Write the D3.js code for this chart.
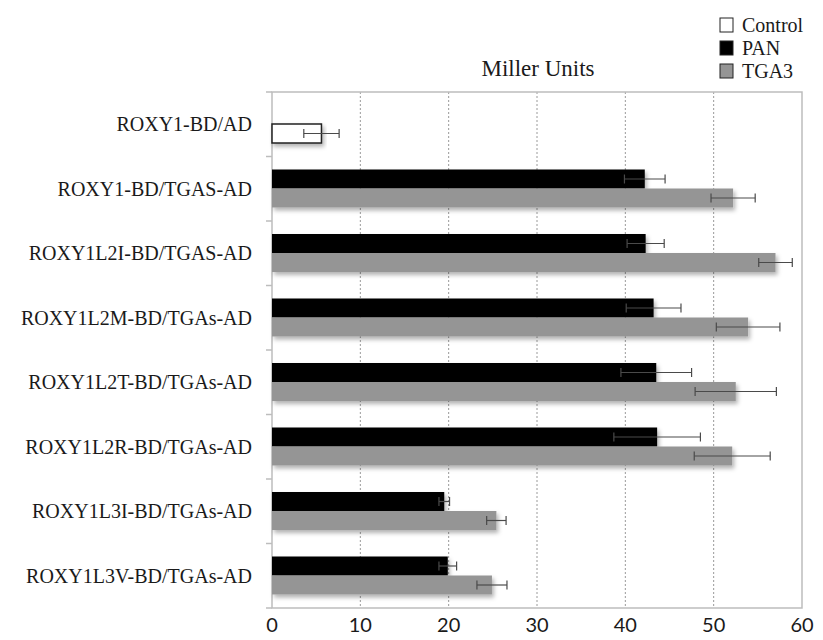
<!DOCTYPE html>
<html>
<head>
<meta charset="utf-8">
<script src="https://cdn.jsdelivr.net/npm/d3@7"></script>
<style>
  html, body { margin: 0; padding: 0; background: #fff; }
  svg { display: block; }
</style>
</head>
<body>
<svg id="chart" width="823" height="640"></svg>
<script>
const categories = [
  'ROXY1-BD/AD',
  'ROXY1-BD/TGAS-AD',
  'ROXY1L2I-BD/TGAS-AD',
  'ROXY1L2M-BD/TGAs-AD',
  'ROXY1L2T-BD/TGAs-AD',
  'ROXY1L2R-BD/TGAs-AD',
  'ROXY1L3I-BD/TGAs-AD',
  'ROXY1L3V-BD/TGAs-AD',
]
const controlValues = [5.6, null, null, null, null, null, null, null]
const controlErrors = [2.0, null, null, null, null, null, null, null]
const panValues = [null, 42.2, 42.3, 43.2, 43.5, 43.6, 19.5, 19.9]
const panErrors = [null, 2.3, 2.1, 3.1, 4.0, 4.9, 0.6, 1.0]
const tga3Values = [null, 52.2, 57.0, 53.9, 52.5, 52.1, 25.4, 24.9]
const tga3Errors = [null, 2.5, 1.9, 3.6, 4.6, 4.3, 1.1, 1.7]
const xTicks = [0, 10, 20, 30, 40, 50, 60]
const legendItems = ['Control', 'PAN', 'TGA3']

const serif = 'Liberation Serif, Times New Roman, serif'
const sans = 'Lato, Open Sans, sans-serif'
const colors = { Control: '#ffffff', PAN: '#000000', TGA3: '#959595' }

const margin = { top: 92, right: 21, bottom: 32, left: 272 }
const width = 823
const height = 640
const svg = d3.select('#chart')

const defs = svg.append('defs')
const shadow = defs.append('filter').attr('id', 'shadow').attr('x', '-5%').attr('y', '-30%').attr('width', '115%').attr('height', '180%')
shadow.append('feDropShadow').attr('dx', 2).attr('dy', 3).attr('stdDeviation', 2).attr('flood-color', '#000').attr('flood-opacity', 0.3)

const x = d3.scaleLinear().domain([0, 60]).range([margin.left, width - margin.right])
const y = d3.scaleBand().domain(categories).range([margin.top, height - margin.bottom])
const slot = d3.scaleBand().domain(['upper', 'lower']).range([13, 51])

// grid
svg.append('g').selectAll('line').data(xTicks.slice(1, -1)).join('line')
  .attr('x1', (d) => x(d)).attr('x2', (d) => x(d))
  .attr('y1', margin.top).attr('y2', height - margin.bottom)
  .attr('stroke', '#9a9a9a').attr('stroke-width', 1).attr('stroke-dasharray', '2,2')

// frame
const frame = svg.append('g').attr('stroke', '#bdbdbd').attr('stroke-width', 1.5).attr('fill', 'none')
frame.append('path').attr('d', `M${x(0)},${margin.top}H${x(60)}V${height - margin.bottom}H${x(0)}Z`)

// left axis ticks at band boundaries
const bounds = categories.map((c) => y(c)).concat([height - margin.bottom])
frame.selectAll('line.tick').data(bounds).join('line').attr('class', 'tick')
  .attr('x1', x(0) - 6).attr('x2', x(0)).attr('y1', (d) => d).attr('y2', (d) => d)

// bars
const rows = categories.map((c, i) => ({ c, control: controlValues[i], controlErr: controlErrors[i], pan: panValues[i], panErr: panErrors[i], tga3: tga3Values[i], tga3Err: tga3Errors[i] }))
const bars = []
rows.forEach((r) => {
  if (r.control != null) bars.push({ c: r.c, s: 'Control', pos: 'lower', v: r.control, e: r.controlErr })
  if (r.pan != null) bars.push({ c: r.c, s: 'PAN', pos: 'upper', v: r.pan, e: r.panErr })
  if (r.tga3 != null) bars.push({ c: r.c, s: 'TGA3', pos: 'lower', v: r.tga3, e: r.tga3Err })
})

svg.append('g').selectAll('rect').data(bars).join('rect')
  .attr('x', x(0))
  .attr('y', (d) => y(d.c) + slot(d.pos))
  .attr('width', (d) => x(d.v) - x(0))
  .attr('height', slot.bandwidth())
  .attr('fill', (d) => colors[d.s])
  .attr('stroke', (d) => (d.s === 'Control' ? '#222' : 'none'))
  .attr('stroke-width', 1.5)
  .attr('filter', 'url(#shadow)')

// error bars
const err = svg.append('g').attr('stroke', '#4a4a4a').attr('stroke-width', 1.2)
const cy = (d) => y(d.c) + slot(d.pos) + slot.bandwidth() / 2
err.selectAll('line.span').data(bars).join('line').attr('class', 'span')
  .attr('x1', (d) => x(d.v - d.e)).attr('x2', (d) => x(d.v + d.e)).attr('y1', cy).attr('y2', cy)
err.selectAll('line.capl').data(bars).join('line').attr('class', 'capl')
  .attr('x1', (d) => x(d.v - d.e)).attr('x2', (d) => x(d.v - d.e)).attr('y1', (d) => cy(d) - 4.5).attr('y2', (d) => cy(d) + 4.5)
err.selectAll('line.capr').data(bars).join('line').attr('class', 'capr')
  .attr('x1', (d) => x(d.v + d.e)).attr('x2', (d) => x(d.v + d.e)).attr('y1', (d) => cy(d) - 4.5).attr('y2', (d) => cy(d) + 4.5)

// category labels
svg.append('g').selectAll('text').data(categories).join('text')
  .attr('x', x(0) - 20).attr('y', (d) => y(d) + y.bandwidth() / 2).attr('dy', '0.35em')
  .attr('text-anchor', 'end').attr('font-family', serif).attr('font-size', 20).attr('fill', '#1a1a1a')
  .text((d) => d)

// x tick labels
svg.append('g').selectAll('text').data(xTicks).join('text')
  .attr('x', (d) => x(d)).attr('y', height - margin.bottom + 24)
  .attr('text-anchor', 'middle').attr('font-family', sans).attr('font-size', 20).attr('fill', '#1a1a1a')
  .text((d) => d)

// title
svg.append('text').attr('x', 538).attr('y', 76).attr('text-anchor', 'middle')
  .attr('font-family', serif).attr('font-size', 23).attr('fill', '#1a1a1a').text('Miller Units')

// legend
const legend = svg.append('g').selectAll('g').data(legendItems).join('g')
  .attr('transform', (d, i) => `translate(720,${18 + i * 23})`)
legend.append('rect').attr('width', 13).attr('height', 14)
  .attr('fill', (d) => colors[d]).attr('stroke', '#222').attr('stroke-width', 1)
legend.append('text').attr('x', 22).attr('y', 13.5)
  .attr('font-family', serif).attr('font-size', 20).attr('fill', '#1a1a1a').text((d) => d)
</script>
</body>
</html>
